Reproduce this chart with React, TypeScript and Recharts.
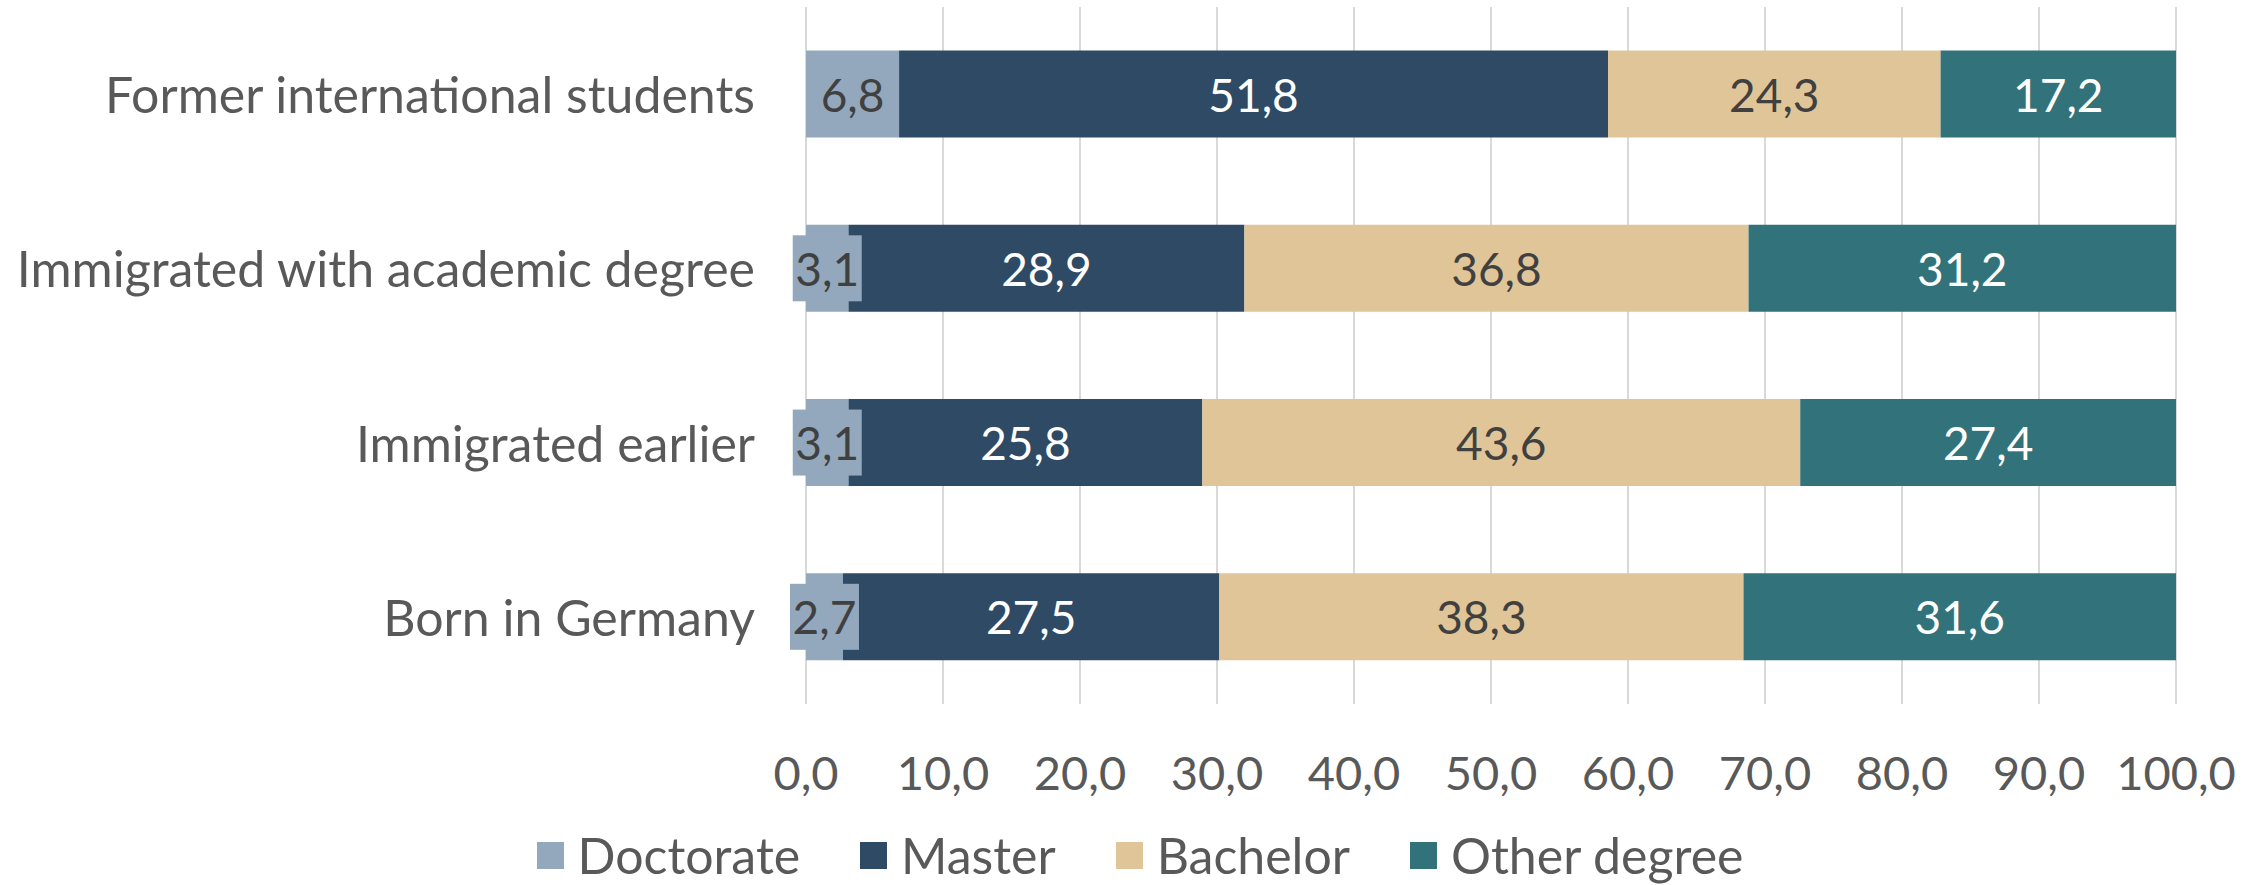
import React from 'react';
import { BarChart, Bar, XAxis, YAxis, CartesianGrid, Legend, LabelList } from 'recharts';

const categories = [
  'Former international students',
  'Immigrated with academic degree',
  'Immigrated earlier',
  'Born in Germany',
];
const doctorate = [6.8, 3.1, 3.1, 2.7];
const master = [51.8, 28.9, 25.8, 27.5];
const bachelor = [24.3, 36.8, 43.6, 38.3];
const other = [17.2, 31.2, 27.4, 31.6];
const xTicks = [0, 10, 20, 30, 40, 50, 60, 70, 80, 90, 100];

const seriesNames = ['Doctorate', 'Master', 'Bachelor', 'Other degree'];
const seriesKeys = ['doctorate', 'master', 'bachelor', 'other'];
const seriesColors = ['#93A8BC', '#2E4A65', '#E0C598', '#32727A'];
const labelColors = ['#404040', '#FFFFFF', '#404040', '#FFFFFF'];

const FONT = 'Lato, "Open Sans", sans-serif';
const AXIS_COLOR = '#595959';

const data = categories.map((name, i) => ({
  name,
  doctorate: doctorate[i],
  master: master[i],
  bachelor: bachelor[i],
  other: other[i],
}));

const fmt = (v: number) => v.toFixed(1).replace('.', ',');

const CategoryTick = ({ x, y, payload }: any) => (
  <text x={x - 51} y={y} textAnchor="end" dominantBaseline="central" fill={AXIS_COLOR} fontSize={50} fontFamily={FONT}>
    {payload.value}
  </text>
);

const ValueTick = ({ x, y, payload }: any) => (
  <text x={x} y={y + 68} textAnchor="middle" dominantBaseline="central" fill={AXIS_COLOR} fontSize={47} fontFamily={FONT}>
    {fmt(payload.value * 100)}
  </text>
);

// label with a little box behind it, like the Excel data label fill
const makeLabel = (idx: number) => (props: any) => {
  const { x, y, width, height, value } = props;
  if (value === undefined || value === null) return null;
  const cx = x + width / 2;
  const cy = y + height / 2;
  const boxW = 69;
  const boxH = 66;
  return (
    <g>
      {idx === 0 && (
        <rect x={cx - boxW / 2} y={cy - boxH / 2} width={boxW} height={boxH} fill={seriesColors[0]} />
      )}
      <text x={cx} y={cy} textAnchor="middle" dominantBaseline="central" fill={labelColors[idx]} fontSize={46} fontFamily={FONT}>
        {fmt(Number(value))}
      </text>
    </g>
  );
};

const CustomLegend = () => (
  <div style={{ display: 'flex', justifyContent: 'center', alignItems: 'center', height: 60, paddingTop: 0, boxSizing: 'border-box', fontFamily: FONT }}>
    {seriesNames.map((n, i) => (
      <div key={n} style={{ display: 'flex', alignItems: 'center', marginRight: i < seriesNames.length - 1 ? 60 : 0 }}>
        <div style={{ width: 27, height: 27, background: seriesColors[i], marginRight: 14 }} />
        <span style={{ fontSize: 50, color: AXIS_COLOR, lineHeight: '54px' }}>{n}</span>
      </div>
    ))}
  </div>
);

const App: React.FC = () => {
  return (
    <div style={{ position: 'absolute', left: 0, top: 0, width: 2264, height: 885, background: '#fff' }}>
      <BarChart
        width={2264}
        height={885}
        data={data}
        layout="vertical"
        stackOffset="expand"
        barCategoryGap="25%"
        margin={{ top: 7, right: 88, left: 0, bottom: 0 }}
      >
        <CartesianGrid horizontal={false} stroke="#D9D9D9" strokeWidth={2} />
        <XAxis
          type="number"
          domain={[0, 1]}
          ticks={xTicks.map(t => t / 100)}
          tick={<ValueTick />}
          axisLine={false}
          tickLine={false}
          tickSize={0}
          tickMargin={0}
          height={121}
          interval={0}
        />
        <YAxis
          type="category"
          dataKey="name"
          tick={<CategoryTick />}
          axisLine={false}
          tickLine={false}
          tickSize={0}
          tickMargin={0}
          width={806}
          interval={0}
        />
        <Legend
          verticalAlign="bottom"
          content={<CustomLegend />}
          wrapperStyle={{ left: 16, width: 2248, height: 60 }}
        />
        {seriesKeys.map((k, i) => (
          <Bar key={k} dataKey={k} name={seriesNames[i]} stackId="a" fill={seriesColors[i]} isAnimationActive={false}>
            <LabelList dataKey={k} content={makeLabel(i)} />
          </Bar>
        ))}
      </BarChart>
    </div>
  );
};

export default App;
